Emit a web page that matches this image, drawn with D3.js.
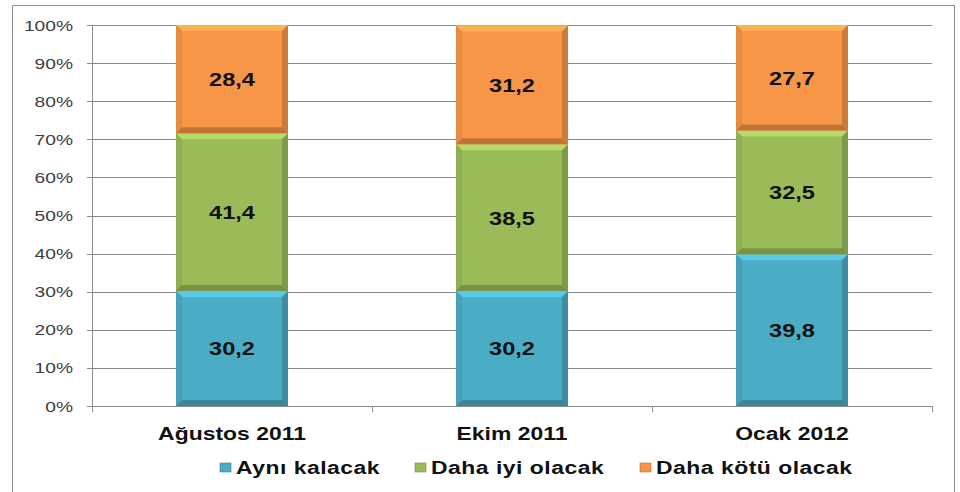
<!DOCTYPE html>
<html>
<head>
<meta charset="utf-8">
<script src="https://cdn.jsdelivr.net/npm/d3@7"></script>
<style>
  body { margin: 0; background: #fff; }
  text { font-family: "Liberation Sans", Arial, sans-serif; }
</style>
</head>
<body>
<div id="chart"></div>
<script>
const categories = ["Ağustos 2011", "Ekim 2011", "Ocak 2012"];
const seriesNames = ["Aynı kalacak", "Daha iyi olacak", "Daha kötü olacak"];
const ayniKalacak = [30.2, 30.2, 39.8];
const dahaIyi = [41.4, 38.5, 32.5];
const dahaKotu = [28.4, 31.2, 27.7];
const yTicks = [0, 10, 20, 30, 40, 50, 60, 70, 80, 90, 100];
const colors = ["#4bacc6", "#9bbb59", "#f79646"];

const width = 960, height = 492;
const margin = {left: 92, right: 28, top: 25, bottom: 86};
// the source picture is stretched sideways, so text is widened a bit
const stretch = 1.24;

const svg = d3.select("#chart").append("svg")
  .attr("width", width).attr("height", height);

// outer frame (no bottom edge visible)
svg.append("path")
  .attr("d", "M12.5,492 L12.5,5.5 L954.5,5.5 L954.5,492")
  .attr("fill", "none").attr("stroke", "#8c8c8c").attr("stroke-width", 1);

const x = d3.scaleBand()
  .domain(categories)
  .range([margin.left, width - margin.right]);

const y = d3.scaleLinear()
  .domain([0, 100])
  .range([height - margin.bottom, margin.top]);

const place = (px, py) => `translate(${px},${py}) scale(${stretch},1)`;

// grid lines
svg.append("g").selectAll("line").data(yTicks).enter().append("line")
  .attr("x1", margin.left - 5).attr("x2", width - margin.right)
  .attr("y1", d => Math.round(y(d)) + 0.5).attr("y2", d => Math.round(y(d)) + 0.5)
  .attr("stroke", "#8a8a8a").attr("stroke-width", 1);

// y axis line
svg.append("line")
  .attr("x1", margin.left + 0.5).attr("x2", margin.left + 0.5)
  .attr("y1", y(100)).attr("y2", y(0) + 5)
  .attr("stroke", "#8a8a8a");

// x ticks at category boundaries
const bounds = categories.map(c => x(c)).concat([x(categories[categories.length - 1]) + x.bandwidth()]);
svg.append("g").selectAll("line").data(bounds).enter().append("line")
  .attr("x1", d => Math.round(d) + 0.5).attr("x2", d => Math.round(d) + 0.5)
  .attr("y1", y(0)).attr("y2", y(0) + 6)
  .attr("stroke", "#8a8a8a");

// y tick labels
svg.append("g").selectAll("text").data(yTicks).enter().append("text")
  .attr("transform", d => place(73, y(d) + 5.5))
  .attr("text-anchor", "end")
  .attr("font-size", 15.5).attr("fill", "#404040")
  .text(d => d + "%");

// stacked data
const rows = categories.map((c, i) => ({cat: c, a: ayniKalacak[i], b: dahaIyi[i], c: dahaKotu[i]}));
const stack = d3.stack().keys(["a", "b", "c"]);
const layers = stack(rows);

const barW = x.bandwidth() * 0.4;
const bev = 6;

function shade(col, k) {
  const c = d3.color(col);
  return k > 0 ? c.brighter(k).formatHex() : c.darker(-k).formatHex();
}

layers.forEach((layer, li) => {
  const col = colors[li];
  const g = svg.append("g");
  layer.forEach((d, i) => {
    const x0 = x(categories[i]) + (x.bandwidth() - barW) / 2;
    const x1 = x0 + barW;
    const yt = y(d[1]);
    const yb = y(d[0]);
    // base
    g.append("rect")
      .attr("x", x0).attr("y", yt).attr("width", barW).attr("height", yb - yt)
      .attr("fill", col);
    // bevel top
    g.append("polygon")
      .attr("points", [[x0, yt], [x1, yt], [x1 - bev, yt + bev], [x0 + bev, yt + bev]].join(" "))
      .attr("fill", shade(col, 0.45));
    // bevel left
    g.append("polygon")
      .attr("points", [[x0, yt], [x0 + bev, yt + bev], [x0 + bev, yb - bev], [x0, yb]].join(" "))
      .attr("fill", shade(col, -0.2));
    // bevel right
    g.append("polygon")
      .attr("points", [[x1, yt], [x1 - bev, yt + bev], [x1 - bev, yb - bev], [x1, yb]].join(" "))
      .attr("fill", shade(col, -0.55));
    // bevel bottom
    g.append("polygon")
      .attr("points", [[x0, yb], [x1, yb], [x1 - bev, yb - bev], [x0 + bev, yb - bev]].join(" "))
      .attr("fill", shade(col, -0.7));
    // value label
    g.append("text")
      .attr("transform", place((x0 + x1) / 2, (yt + yb) / 2 + 7))
      .attr("text-anchor", "middle")
      .attr("font-size", 19).attr("font-weight", "bold").attr("fill", "#111")
      .text(String(d.data[layer.key]).replace(".", ","));
  });
});

// category labels
svg.append("g").selectAll("text").data(categories).enter().append("text")
  .attr("transform", d => place(x(d) + x.bandwidth() / 2, 440))
  .attr("text-anchor", "middle")
  .attr("font-size", 18.5).attr("font-weight", "bold").attr("fill", "#111")
  .text(d => d);

// legend
const legendX = [220, 415, 640];
const legend = svg.append("g").selectAll("g").data(seriesNames).enter().append("g")
  .attr("transform", (d, i) => `translate(${legendX[i]},463)`);
legend.append("rect")
  .attr("width", 11).attr("height", 9)
  .attr("fill", (d, i) => colors[i])
  .attr("stroke", (d, i) => shade(colors[i], -0.8)).attr("stroke-width", 0.6);
legend.append("text")
  .attr("transform", place(16, 11))
  .attr("font-size", 18.5).attr("font-weight", "bold").attr("fill", "#111")
  .attr("letter-spacing", 0.4)
  .text(d => d);
</script>
</body>
</html>
